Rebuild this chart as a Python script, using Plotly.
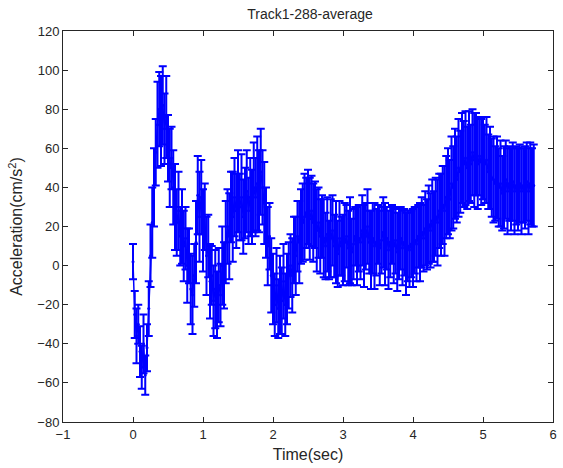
import plotly.graph_objects as go

# mean acceleration, sampled every 0.025 s from t = 0
accel = [
    2, -25, -36, -30, -44, -52, -40, -56, -42, -22,
    5, 22, 40, 58, 72, 80, 74, 82, 70, 76,
    60, 50, 55, 40, 30, 22, 28, 15, 20, 10,
    14, 0, 5, -12, -15, -5, 12, 36, 25, 35,
    18, 25, 5, 10, -8, -5, -18, -12, -20, -10,
    -15, 0, -5, 12, 20, 15, 30, 25, 35, 28,
    38, 30, 35, 25, 32, 38, 28, 35, 30, 40,
    35, 42, 38, 48, 40, 32, 22, 10, 15, -5,
    -12, -20, -10, -22, -15, -18, -8, -20, -12, -5,
    0, -5, 8, 5, 15, 12, 20, 22, 25, 27,
    30, 24, 28, 22, 26, 18, 22, 15, 20, 14,
    10, 16, 8, 14, 18, 10, 12, 6, 14, 10,
    8, 12, 15, 9, 13, 7, 11, 15, 10, 14,
    12, 18, 10, 15, 20, 12, 8, 14, 10, 12,
    16, 9, 13, 17, 11, 14, 8, 12, 16, 10,
    13, 7, 11, 14, 9, 12, 6, 10, 8, 11,
    9, 13, 11, 15, 12, 17, 14, 19, 16, 21,
    18, 23, 20, 25, 22, 28, 26, 31, 28, 35,
    38, 34, 42, 40, 47, 44, 50, 48, 55, 52,
    55, 50, 56, 52, 58, 54, 57, 52, 56, 53,
    55, 52, 54, 48, 50, 45, 44, 42, 45, 40,
    42, 37, 40, 44, 38, 42, 39, 43, 38, 41,
    39, 42, 38, 41, 40, 43, 38, 42, 40, 41,
]
# half-length of each error bar
errs = [
    9, 12, 14, 10, 13, 11, 15, 10, 12, 14,
    16, 18, 20, 17, 22, 19, 23, 20, 18, 21,
    17, 20, 16, 19, 22, 17, 20, 15, 19, 18,
    16, 19, 14, 18, 20, 16, 21, 20, 23, 19,
    21, 17, 20, 16, 19, 15, 18, 20, 17, 19,
    16, 20, 17, 21, 19, 22, 18, 23, 20, 19,
    21, 17, 22, 19, 18, 21, 17, 20, 19, 23,
    20, 24, 21, 22, 19, 21, 18, 20, 17, 19,
    18, 16, 19, 15, 20, 17, 19, 16, 18, 17,
    16, 19, 17, 20, 18, 21, 19, 20, 22, 18,
    19, 21, 18, 20, 17, 21, 18, 19, 16, 20,
    17, 19, 15, 20, 18, 16, 21, 17, 19, 15,
    18, 20, 16, 19, 22, 17, 18, 15, 20, 17,
    19, 18, 21, 17, 19, 16, 20, 18, 22, 17,
    15, 19, 17, 18, 21, 16, 20, 18, 15, 19,
    17, 20, 18, 16, 19, 17, 21, 18, 19, 17,
    20, 17, 19, 16, 20, 18, 17, 19, 18, 20,
    19, 21, 18, 20, 22, 19, 21, 20, 23, 21,
    22, 20, 24, 21, 23, 22, 25, 21, 23, 22,
    24, 21, 23, 20, 22, 24, 21, 23, 20, 22,
    21, 20, 22, 19, 21, 20, 22, 19, 21, 20,
    22, 19, 21, 20, 22, 19, 21, 20, 22, 20,
    21, 20, 22, 19, 21, 20, 22, 21, 20, 21,
]
time = [round(i * 0.025, 3) for i in range(len(accel))]

x_ticks = [-1, 0, 1, 2, 3, 4, 5, 6]
y_ticks = [-80, -60, -40, -20, 0, 20, 40, 60, 80, 100, 120]

fig = go.Figure()
fig.add_trace(go.Scatter(
    x=time, y=accel, mode="lines+markers",
    line=dict(color="#0000ff", width=1.5),
    marker=dict(color="#0000ff", size=3),
    error_y=dict(type="data", array=errs, visible=True,
                 color="#0000ff", thickness=2, width=4),
    showlegend=False,
))

FONT = "Liberation Sans, Arial, sans-serif"
axis_common = dict(
    showgrid=False, zeroline=False, showline=True, linecolor="#262626",
    linewidth=1, mirror="ticks", ticks="inside", ticklen=5,
    tickcolor="#262626", tickfont=dict(family=FONT, size=13, color="#262626"),
)

fig.update_layout(
    width=563, height=468,
    margin=dict(l=63, r=6, t=31, b=46),
    paper_bgcolor="white", plot_bgcolor="white",
    font=dict(family=FONT, size=13, color="#262626"),
    title=dict(text="Track1-288-average", x=310 / 563, xanchor="center",
               y=1 - 14 / 468, yanchor="middle",
               font=dict(family=FONT, size=14, color="#262626")),
    xaxis=dict(range=[-1, 6], tickvals=x_ticks,
               title=dict(text="Time(sec)", standoff=8), **axis_common),
    yaxis=dict(range=[-80, 120], tickvals=y_ticks,
               title=dict(text="Acceleration(cm/s<sup>2</sup>)", standoff=10), **axis_common),
)

fig.write_html("out.html")
